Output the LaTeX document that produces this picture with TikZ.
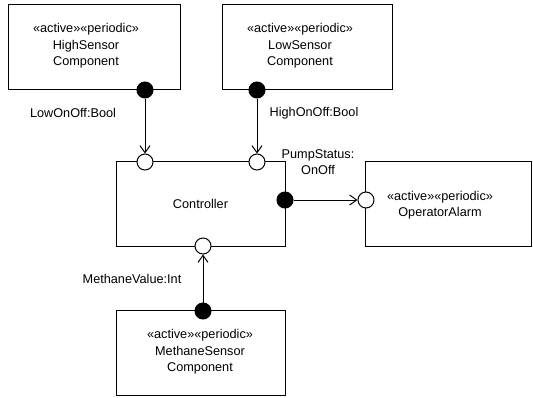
\documentclass[tikz,border=0pt]{standalone}
\usepackage{fontspec}
\setmainfont{Liberation Sans}
\usetikzlibrary{arrows.meta}
\begin{document}
\begin{tikzpicture}[x=1pt,y=-1pt,line width=1pt,>={Straight Barb[length=7pt,width=10pt]},
    font=\fontsize{12.7}{16.5}\selectfont,
    box/.style={draw,minimum width=#1,minimum height=85pt,inner sep=0pt},
    txt/.style={align=center,inner sep=0pt},
    fport/.style={circle,draw,fill=black,minimum size=16pt,inner sep=0pt},
    oport/.style={circle,draw,fill=white,minimum size=16pt,inner sep=0pt}]
    \useasboundingbox(0,0)rectangle(533,397);
    % components
    \node[box=172pt](hs)at(94,47){};
    \node[box=170pt](ls)at(307,47){};
    \node[box=169pt](ctl)at(200.5,204){};
    \node[box=166pt](alm)at(448,204){};
    \node[box=169pt](ms)at(200.5,352.5){};
    \node[txt](hst)at(86,46){«active»«periodic»\\HighSensor\\Component};
    \node[txt](lst)at(300,46){«active»«periodic»\\LowSensor\\Component};
    \node[txt](ctlt)at(ctl.center){Controller};
    \node[txt](almt)at(440,205){«active»«periodic»\\OperatorAlarm};
    \node[txt](mst)at(200,352){«active»«periodic»\\MethaneSensor\\Component};
    % ports
    \node[fport](a)at(145,90){};
    \node[fport](b)at(257,90){};
    \node[oport](c)at(145,162){};
    \node[oport](d)at(257,162){};
    \node[fport](e)at(285,200){};
    \node[oport](f)at(366,200){};
    \node[oport](g)at(203,246){};
    \node[fport](h)at(203,311){};
    % flows
    \draw[->](a)--(c);
    \draw[->](b)--(d);
    \draw[->](e)--(f);
    \draw[->](h)--(g);
    \node[txt](la)at(73,113){LowOnOff:Bool};
    \node[txt](lb)at(314,113){HighOnOff:Bool};
    \node[txt](le)at(318,162){PumpStatus:\\OnOff};
    \node[txt](lh)at(132,279){MethaneValue:Int};
\end{tikzpicture}
\end{document}
